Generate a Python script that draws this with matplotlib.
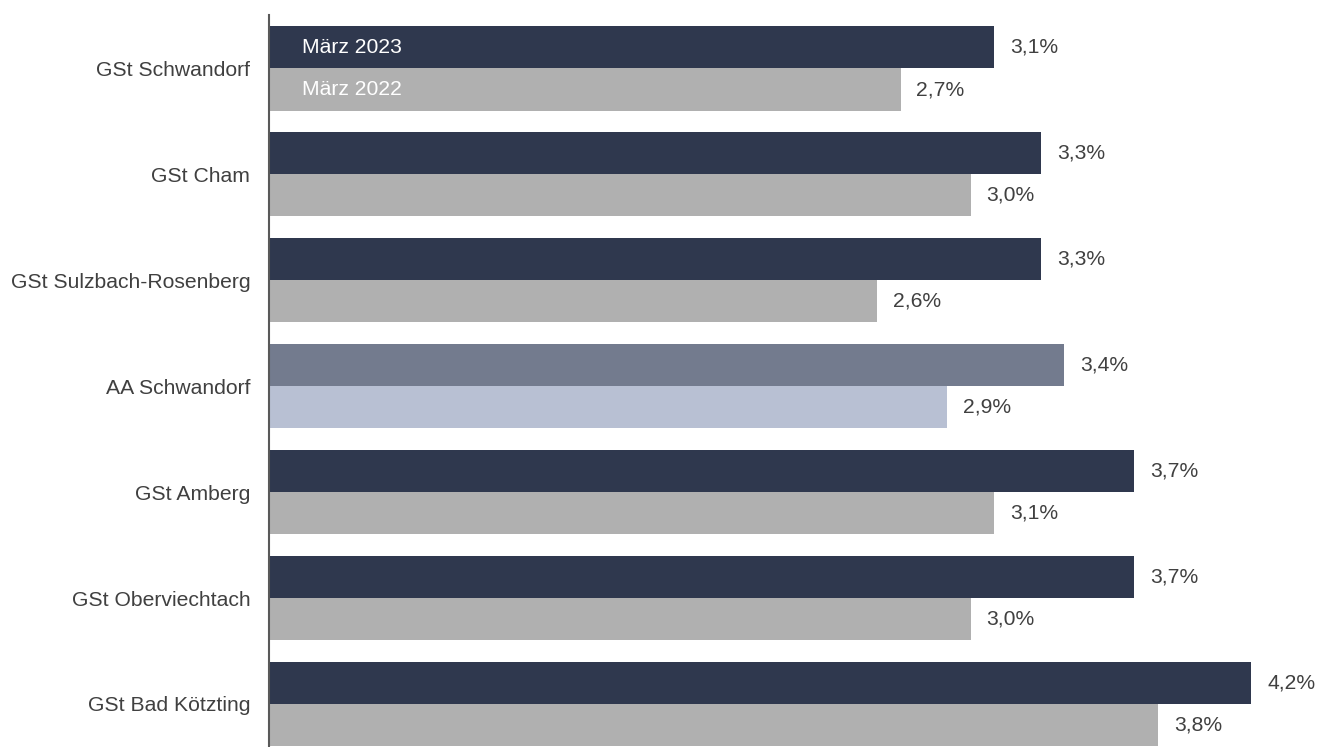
import numpy as np
import matplotlib.pyplot as plt
from matplotlib import font_manager as fm

# make sure the Arial-like face is really used
lib_path = fm.findfont(fm.FontProperties(family="Liberation Sans"))
fm.fontManager.addfont(lib_path)
plt.rcParams['font.family'] = ['Liberation Sans', 'DejaVu Sans']

# data
regions = ["GSt Schwandorf", "GSt Cham", "GSt Sulzbach-Rosenberg", "AA Schwandorf",
           "GSt Amberg", "GSt Oberviechtach", "GSt Bad Kötzting"]
maerz_2023 = [3.1, 3.3, 3.3, 3.4, 3.7, 3.7, 4.2]
maerz_2022 = [2.7, 3.0, 2.6, 2.9, 3.1, 3.0, 3.8]
series_names = ["März 2023", "März 2022"]

dark = "#2f384e"
grey = "#b0b0b0"
dark_hl = "#737b8e"
grey_hl = "#b8c0d3"
txt = "#404040"
fs = 15.2

fig = plt.figure(figsize=(13.3, 7.47), dpi=100)
ax = fig.add_axes([269/1330, 0, 1 - 269/1330, (747-15)/747])

y = np.arange(len(regions))
h = 0.397
c23 = [dark_hl if r.startswith("AA") else dark for r in regions]
c22 = [grey_hl if r.startswith("AA") else grey for r in regions]
ax.barh(y - h/2, maerz_2023, height=h, color=c23)
ax.barh(y + h/2, maerz_2022, height=h, color=c22)

for i in range(len(regions)):
    ax.text(maerz_2023[i] + 0.068, y[i] - h/2, f"{maerz_2023[i]:.1f}%".replace(".", ","),
            va="center", ha="left", fontsize=fs, color=txt)
    ax.text(maerz_2022[i] + 0.068, y[i] + h/2, f"{maerz_2022[i]:.1f}%".replace(".", ","),
            va="center", ha="left", fontsize=fs, color=txt)

# series names inside the first bars
ax.text(0.14, y[0] - h/2, series_names[0], va="center", ha="left", fontsize=fs, color="white")
ax.text(0.14, y[0] + h/2, series_names[1], va="center", ha="left", fontsize=fs, color="white")

ax.set_xlim(0, (1330-269)/233.9)
ax.set_ylim(6.406, -0.505)
ax.set_yticks(y)
ax.set_yticklabels(regions, fontsize=fs, color=txt)
ax.tick_params(axis="y", length=0, pad=13.5)
ax.set_xticks([])
for s in ["top", "right", "bottom"]:
    ax.spines[s].set_visible(False)
ax.spines["left"].set_color("#595959")
ax.spines["left"].set_linewidth(1.5)

fig.savefig("out.png", dpi=100)
